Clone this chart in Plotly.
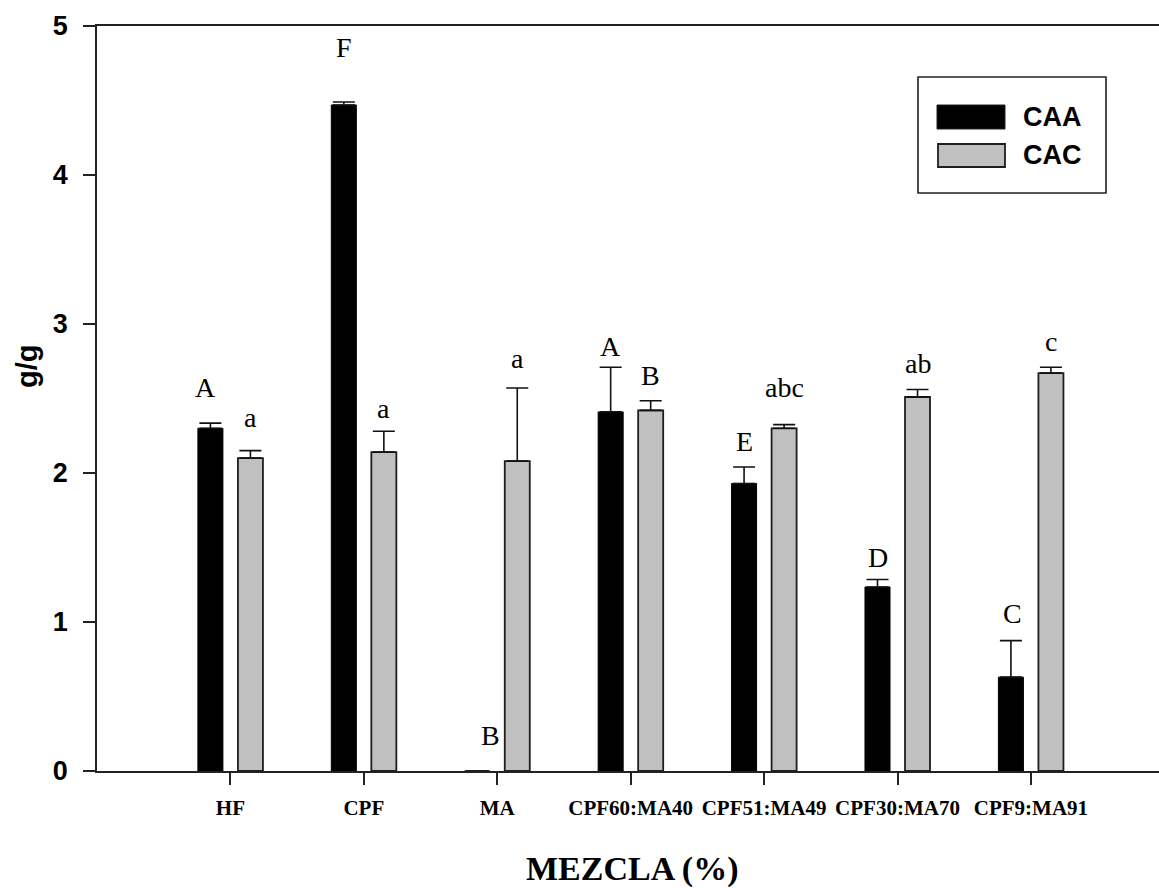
import plotly.graph_objects as go

# Mezcla categories and measured capacities (g/g), mean and upper error
categories = ["HF", "CPF", "MA", "CPF60:MA40", "CPF51:MA49", "CPF30:MA70", "CPF9:MA91"]
caa_values = [2.30, 4.47, 0.0, 2.41, 1.93, 1.235, 0.63]
caa_errors = [0.035, 0.02, 0.0, 0.30, 0.11, 0.05, 0.245]
cac_values = [2.10, 2.14, 2.08, 2.42, 2.30, 2.51, 2.67]
cac_errors = [0.05, 0.14, 0.49, 0.065, 0.025, 0.05, 0.04]

# Significance letters
caa_letters = ["A", "F", "B", "A", "E", "D", "C"]
cac_letters = ["a", "a", "a", "B", "abc", "ab", "c"]

y_ticks = [0, 1, 2, 3, 4, 5]

# label placement (pixels above the error cap)
caa_gap = [25, 44, 25, 10, 15, 12, 17]
cac_gap = [23, 12, 19, 15, 27, 16, 15]
caa_dx = [-5, 0, 13, 0, 0, 0, 2]

W, H = 1159, 888
L, R, T, B = 97, 0, 26, 117
BAR_OFF = 20  # px offset of each bar centre from the category tick

serif = "Liberation Serif, Times New Roman, serif"
sans = "Liberation Sans, Arial, sans-serif"

fig = go.Figure()
fig.add_trace(go.Bar(
    name="CAA", x=categories, y=caa_values,
    marker=dict(color="black", line=dict(color="black", width=1)),
    error_y=dict(type="data", symmetric=False, array=caa_errors,
                 arrayminus=[0] * len(caa_errors),
                 color="#111", thickness=1.6, width=11),
))
fig.add_trace(go.Bar(
    name="CAC", x=categories, y=cac_values,
    marker=dict(color="#c0c0c0", line=dict(color="#1e1e1e", width=1.8)),
    error_y=dict(type="data", symmetric=False, array=cac_errors,
                 arrayminus=[0] * len(cac_errors),
                 color="#111", thickness=1.6, width=11),
))

annotations = []
for i, cat in enumerate(categories):
    annotations.append(dict(
        x=cat, y=caa_values[i] + caa_errors[i], text=caa_letters[i],
        xref="x", yref="y", showarrow=False, xanchor="center", yanchor="bottom",
        xshift=-BAR_OFF + caa_dx[i], yshift=caa_gap[i] - 7,
        font=dict(family=serif, size=28, color="black"),
    ))
    annotations.append(dict(
        x=cat, y=cac_values[i] + cac_errors[i], text=cac_letters[i],
        xref="x", yref="y", showarrow=False, xanchor="center", yanchor="bottom",
        xshift=BAR_OFF, yshift=cac_gap[i] - 7,
        font=dict(family=serif, size=28, color="black"),
    ))

pw, ph = W - L - R, H - T - B


def px(xp):
    return (xp - L) / pw


def py(yp):
    return (H - B - yp) / ph


# axis titles
annotations.append(dict(
    x=px(632), y=py(869), xref="paper", yref="paper", showarrow=False,
    text="MEZCLA (%)", xanchor="center", yanchor="middle",
    font=dict(family=serif, size=34, color="black", weight="bold"),
))
annotations.append(dict(
    x=px(27), y=py(366), xref="paper", yref="paper", showarrow=False,
    text="g/g", textangle=-90, xanchor="center", yanchor="middle",
    font=dict(family=sans, size=29, color="black", weight="bold"),
))

# legend box
shapes = [
    dict(type="rect", xref="paper", yref="paper",
         x0=px(918), x1=px(1106), y0=py(193), y1=py(77),
         line=dict(color="#222", width=1.6), fillcolor="white"),
    dict(type="rect", xref="paper", yref="paper",
         x0=px(937), x1=px(1005), y0=py(129), y1=py(105),
         line=dict(color="#222", width=1), fillcolor="black"),
    dict(type="rect", xref="paper", yref="paper",
         x0=px(938), x1=px(1005), y0=py(167), y1=py(144),
         line=dict(color="#1e1e1e", width=1.8), fillcolor="#c0c0c0"),
]
for name, yc in (("CAA", 117), ("CAC", 155)):
    annotations.append(dict(
        x=px(1021), y=py(yc), xref="paper", yref="paper", showarrow=False,
        text=name, xanchor="left", yanchor="middle",
        font=dict(family=sans, size=27, color="black", weight="bold"),
    ))

fig.update_layout(
    width=W, height=H,
    margin=dict(l=L, r=R, t=T, b=B, pad=0),
    paper_bgcolor="white", plot_bgcolor="white",
    barmode="group", bargap=0.40, bargroupgap=0.375,
    showlegend=False,
    annotations=annotations, shapes=shapes,
)
fig.update_xaxes(
    type="category", categoryorder="array", categoryarray=categories,
    range=[-1, 6.96],
    showline=True, linecolor="#222", linewidth=1.6, mirror=True,
    ticks="outside", ticklen=12, tickwidth=1.6, tickcolor="#222",
    showgrid=False, zeroline=False, ticklabelstandoff=5,
    tickfont=dict(family=serif, size=21, color="black", weight="bold"),
)
fig.update_yaxes(
    range=[0, 5], tickvals=y_ticks,
    showline=True, linecolor="#222", linewidth=1.6, mirror=False,
    ticks="outside", ticklen=12, tickwidth=1.6, tickcolor="#222",
    showgrid=False, zeroline=False, ticklabelstandoff=10,
    tickfont=dict(family=sans, size=27, color="black", weight="bold"),
)

fig.write_html("out.html")
